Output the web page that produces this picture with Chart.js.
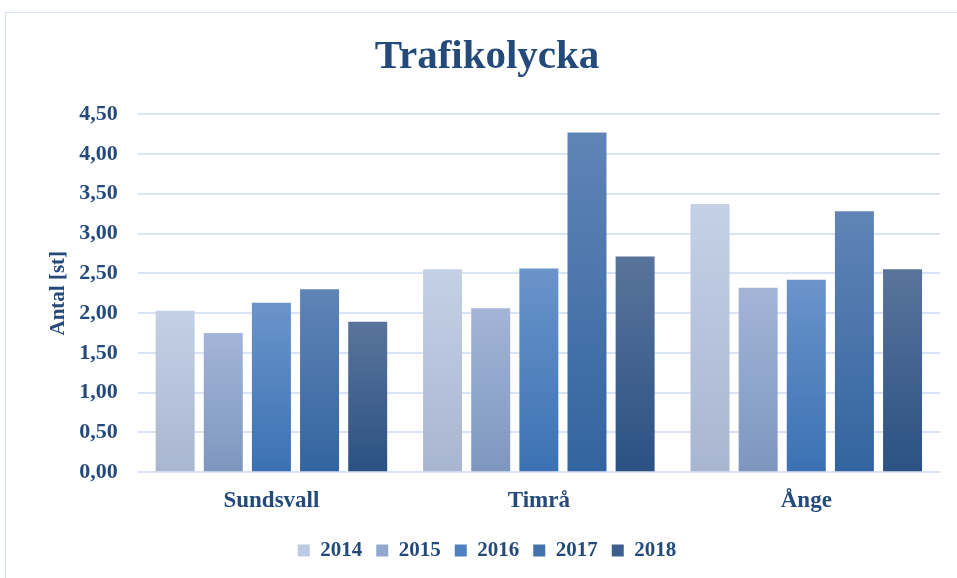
<!DOCTYPE html>
<html>
<head>
<meta charset="utf-8">
<script src="https://cdn.jsdelivr.net/npm/chart.js@4.4.0/dist/chart.umd.min.js"></script>
<style>
  body { margin: 0; background: #fff; }
  #box {
    position: absolute; left: 5px; top: 12px; width: 960px; height: 580px;
    border: 1.5px solid #d6e1f0; box-sizing: border-box;
  }
  #wrap { position: absolute; left: 0; top: 0; width: 957px; height: 578px; }
</style>
</head>
<body>
<div id="box"></div>
<div id="wrap"><canvas id="myChart" width="957" height="578"></canvas></div>
<script>
// Kategorier och serier
const categories = ['Sundsvall', 'Timrå', 'Ånge'];
const years = ['2014', '2015', '2016', '2017', '2018'];
const v2014 = [2.03, 2.55, 3.37];
const v2015 = [1.75, 2.06, 2.32];
const v2016 = [2.13, 2.56, 2.42];
const v2017 = [2.30, 4.27, 3.28];
const v2018 = [1.89, 2.71, 2.55];
const yTicks = [0, 0.5, 1, 1.5, 2, 2.5, 3, 3.5, 4, 4.5];

// gradient top/bottom per year
const topColors = ['#c4d0e5', '#a3b5d7', '#6b94ca', '#6084b6', '#59749b'];
const bottomColors = ['#a9b6d1', '#7e96bf', '#3b71b3', '#33649f', '#2b5183'];
const legendColors = ['#bccae2', '#93a8cf', '#4f81c0', '#4472ab', '#3e5f8d'];

const textColor = '#244a7c';
const font = '"Liberation Serif", "DejaVu Serif", serif';

function barGradient(i) {
  return function (ctx) {
    const chart = ctx.chart;
    if (!chart.chartArea || ctx.type !== 'data') return legendColors[i];
    const y = chart.scales.y;
    const top = y.getPixelForValue(ctx.raw);
    const bottom = y.getPixelForValue(0);
    if (!isFinite(top) || top === bottom) return legendColors[i];
    const g = chart.ctx.createLinearGradient(0, top, 0, bottom);
    g.addColorStop(0, topColors[i]);
    g.addColorStop(1, bottomColors[i]);
    return g;
  };
}

const series = [v2014, v2015, v2016, v2017, v2018];
const datasets = series.map(function (data, i) {
  return {
    label: years[i],
    data: data,
    backgroundColor: barGradient(i),
    borderWidth: 0,
    categoryPercentage: 0.9,
    barPercentage: 0.81,
  };
});

const ctx = document.getElementById('myChart').getContext('2d');
const myChart = new Chart(ctx, {
  type: 'bar',
  data: { labels: categories, datasets: datasets },
  options: {
    responsive: false,
    animation: false,
    layout: { padding: { left: 34, right: 17, top: 33, bottom: 7 } },
    plugins: {
      title: {
        display: true,
        text: 'Trafikolycka',
        color: textColor,
        font: { family: font, size: 41, weight: 'bold' },
        padding: { top: 0, bottom: 32 },
      },
      legend: {
        position: 'bottom',
        labels: {
          color: textColor,
          font: { family: font, size: 21, weight: 'bold' },
          boxWidth: 12,
          boxHeight: 12,
          padding: 14,
          generateLabels: function (chart) {
            return years.map(function (y, i) {
              return {
                text: y,
                fillStyle: legendColors[i],
                strokeStyle: legendColors[i],
                lineWidth: 0,
                datasetIndex: i,
                fontColor: textColor,
              };
            });
          },
        },
      },
      tooltip: { enabled: false },
    },
    scales: {
      x: {
        grid: { display: false },
        border: { display: false },
        ticks: {
          color: textColor,
          font: { family: font, size: 23, weight: 'bold' },
          padding: 7,
        },
        // tomt utrymme mellan kategorier och förklaring
        title: { display: true, text: '', font: { size: 3.5 }, padding: 0 },
      },
      y: {
        min: 0,
        max: 4.5,
        afterBuildTicks: function (axis) {
          axis.ticks = yTicks.map(function (v) { return { value: v }; });
        },
        grid: { color: '#d9e3f3', lineWidth: 2, drawTicks: false },
        border: { display: false },
        ticks: {
          color: textColor,
          font: { family: font, size: 22, weight: 'bold' },
          padding: 20,
          callback: function (v) { return v.toFixed(2).replace('.', ','); },
        },
        title: {
          display: true,
          text: 'Antal [st]',
          color: textColor,
          font: { family: font, size: 21, weight: 'bold' },
          padding: { top: 12, bottom: -12 },
        },
      },
    },
  },
});
</script>
</body>
</html>
